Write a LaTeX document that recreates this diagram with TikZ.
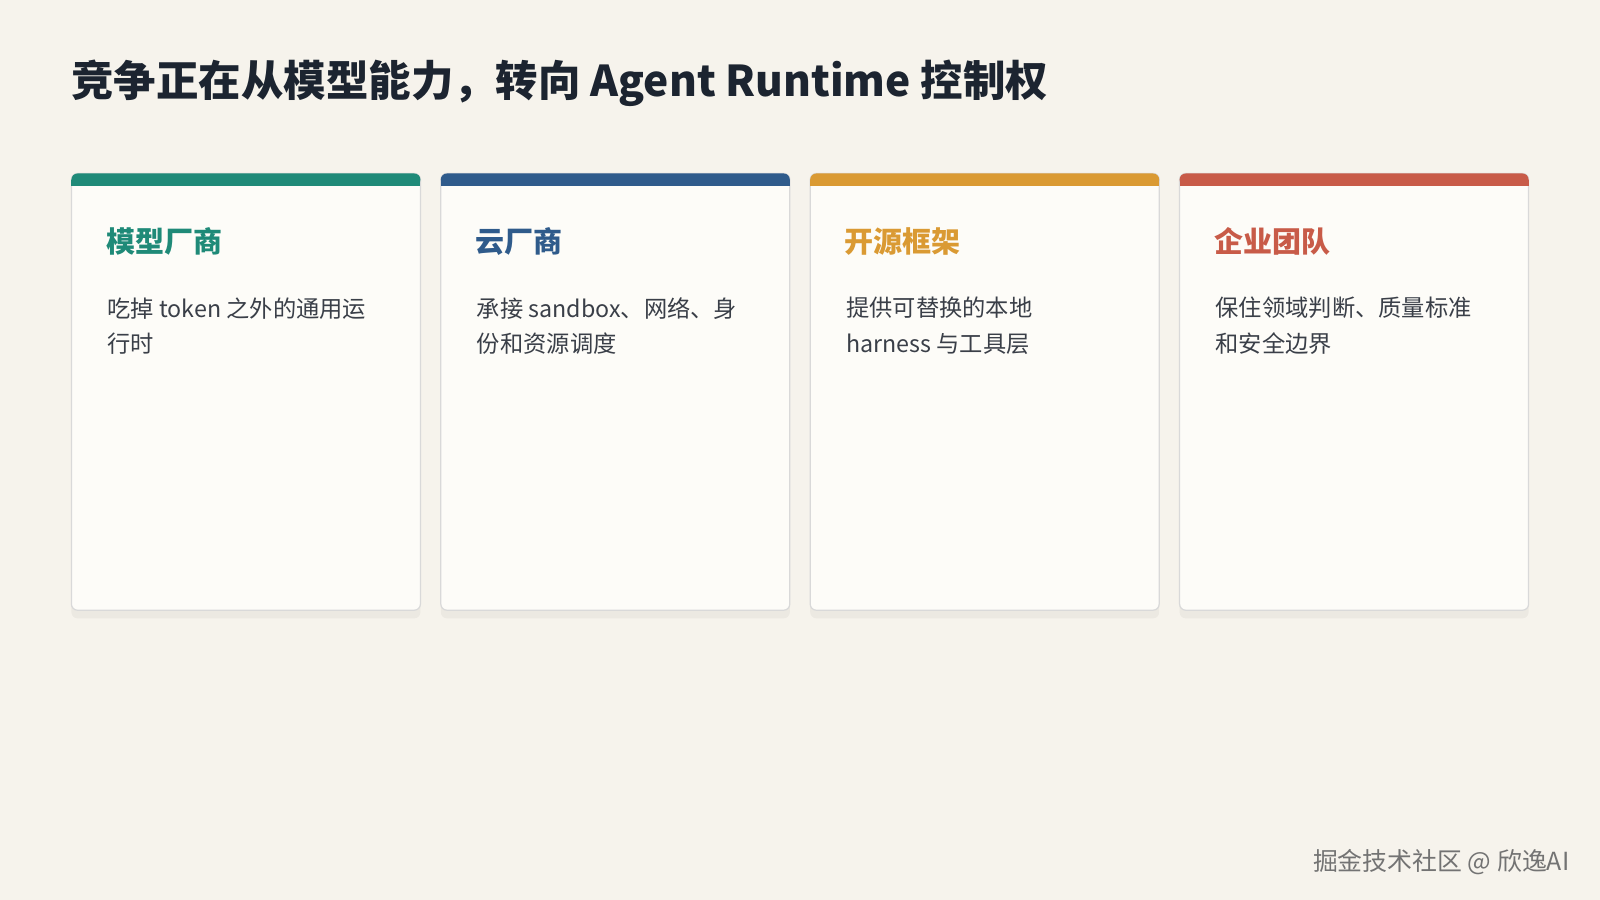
\documentclass[tikz,border=0pt]{standalone}
\usepackage{fontspec}
\setmainfont{Noto Sans CJK SC}
\usetikzlibrary{shadows}
\definecolor{bgcol}{HTML}{F6F3EC}
\definecolor{cardcol}{HTML}{FDFCF8}
\definecolor{inkcol}{HTML}{1C2430}
\definecolor{bodycol}{HTML}{3A3F48}
\definecolor{tealcol}{HTML}{1F8A78}
\definecolor{bluecol}{HTML}{2F5B8B}
\definecolor{orangecol}{HTML}{DA9A33}
\definecolor{redcol}{HTML}{C85B48}
\tikzset{
  card/.style={draw=black!15, line width=0.6pt, fill=cardcol, rounded corners=3pt,
    drop shadow={shadow xshift=0pt, shadow yshift=-4pt, opacity=0.04, fill=black}},
  head/.style={anchor=west, font=\fontsize{14.2}{17}\selectfont\bfseries},
  body/.style={anchor=north west, align=left, text=bodycol,
    font=\fontsize{11.4}{17.5}\selectfont, inner sep=0pt},
}
\begin{document}
\begin{tikzpicture}[x=0.5pt,y=-0.5pt]
\useasboundingbox[fill=bgcol] (0,0) rectangle (1568,882);
\node (title) [anchor=west, text=inkcol, font=\fontsize{20.8}{24}\selectfont\bfseries]
  at (63,82) {竞争正在从模型能力，转向 Agent Runtime 控制权};
%% cards
\foreach \i/\col/\name/\txt in {
  0/tealcol/模型厂商/{吃掉 token 之外的通用运\\行时},
  1/bluecol/云厂商/{承接 sandbox、网络、身\\份和资源调度},
  2/orangecol/开源框架/{提供可替换的本地\\harness 与工具层},
  3/redcol/企业团队/{保住领域判断、质量标准\\和安全边界}}{
  \pgfmathsetmacro{\xl}{70+362*\i}
  \path[card] (\xl,170) rectangle ++(342,428);
  \fill[\col, rounded corners=3pt] (\xl,170) rectangle ++(342,12);
  \fill[\col] (\xl,176) rectangle ++(342,6);
  \node (head\i) [head, text=\col] at (\xl+27,237) {\name};
  \node (body\i) [body] at (\xl+35,291) {\txt};
}
\node (mark) [anchor=east, text=black!55, font=\fontsize{12.2}{14}\selectfont]
  at (1545,845) {掘金技术社区 @ 欣逸AI};
\end{tikzpicture}
\end{document}
